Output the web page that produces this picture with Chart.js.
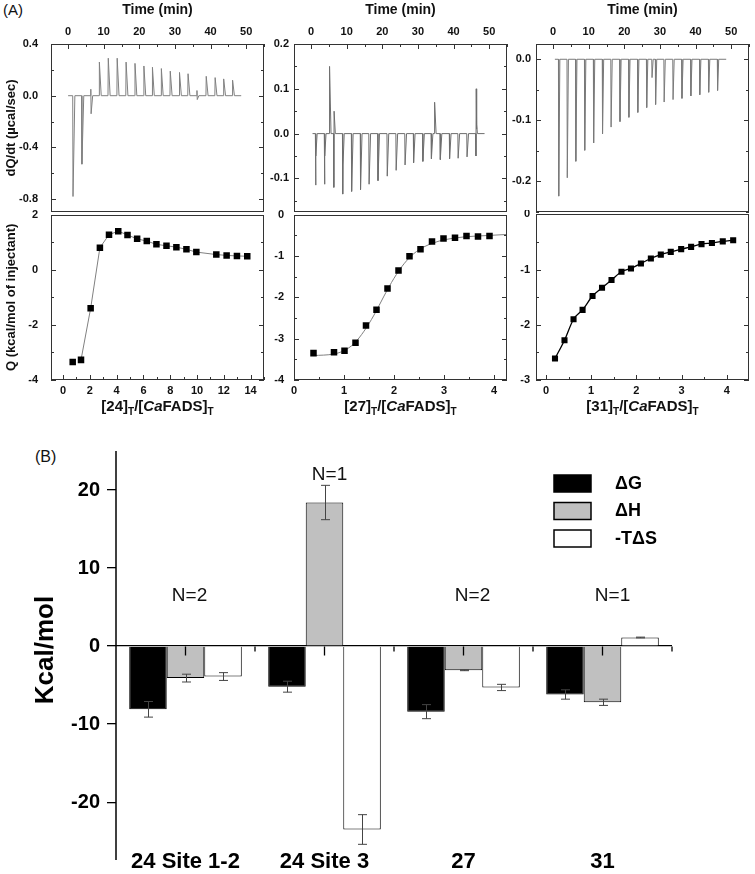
<!DOCTYPE html>
<html>
<head>
<meta charset="utf-8">
<script src="https://cdn.jsdelivr.net/npm/chart.js@4.4.0/dist/chart.umd.min.js"></script>
<style>
body { margin: 0; width: 755px; height: 874px; background: #fff; position: relative; overflow: hidden; font-family: "Liberation Sans", Arial, sans-serif; }
canvas { position: absolute; }
.lab { position: absolute; color: #111; }
.xt { position: absolute; text-align: center; font-weight: bold; font-size: 15px; top: 397px; color: #111; }
.xt sub { font-size: 10px; vertical-align: -4px; line-height: 0; }
</style>
</head>
<body>
<div class="lab" style="left:3px;top:1px;font-size:15px">(A)</div>
<div class="lab" style="left:35px;top:448px;font-size:16px">(B)</div>

<canvas id="t1" width="270" height="214" style="left:0;top:0"></canvas>
<canvas id="b1" width="270" height="192" style="left:0;top:210px"></canvas>
<canvas id="t2" width="259" height="214" style="left:254px;top:0"></canvas>
<canvas id="b2" width="259" height="192" style="left:254px;top:210px"></canvas>
<canvas id="t3" width="259" height="214" style="left:496px;top:0"></canvas>
<canvas id="b3" width="259" height="192" style="left:496px;top:210px"></canvas>

<div class="xt" style="left:51px;width:213px">[24]<sub>T</sub>/[<i>Ca</i>FADS]<sub>T</sub></div>
<div class="xt" style="left:294px;width:213px">[27]<sub>T</sub>/[<i>Ca</i>FADS]<sub>T</sub></div>
<div class="xt" style="left:536px;width:213px">[31]<sub>T</sub>/[<i>Ca</i>FADS]<sub>T</sub></div>

<canvas id="bars" width="755" height="444" style="left:0;top:430px"></canvas>

<script>
// raw ITC traces: injection times (min) and peak heights (µcal/sec)
const inj1Times = [1.3, 3.8, 6.3, 8.7, 11.2, 13.7, 16.2, 18.7, 21.2, 23.6, 26.1, 28.6, 31.2, 33.6, 36.1, 38.7, 41.2, 43.6, 46.1];
const inj1Peaks = [-0.78, -0.53, [0.05, -0.14], 0.26, 0.29, 0.29, 0.26, 0.25, 0.23, 0.22, 0.21, 0.19, 0.18, 0.17, [0.04, -0.03], 0.15, 0.14, 0.13, 0.12];

const inj2Times = [1.2, 3.7, 5.1, 6.3, 8.8, 11.3, 13.8, 16.2, 18.7, 21.3, 23.8, 26.3, 28.7, 31.3, 33.7, 34.6, 36.2, 38.8, 41.2, 43.7, 46.2];
const inj2Peaks = [[-0.115, -0.05], [-0.113, -0.05], 0.15, [-0.12, 0.05], [-0.135, -0.07], -0.129, -0.125, -0.113, -0.105, -0.095, -0.082,
  -0.07, -0.065, -0.062, -0.056, 0.07, -0.058, -0.056, -0.055, -0.052, [-0.05, 0.10, 0.01, 0.02]];

const inj3Times = [1.5, 3.9, 6.3, 8.8, 11.3, 13.8, 16.2, 18.7, 21.2, 23.7, 26.2, 27.7, 28.7, 31.1, 33.6, 36.1, 38.6, 41.1, 43.6, 46.1];
const inj3Peaks = [-0.224, -0.194, -0.167, -0.149, -0.137, -0.122, -0.111, -0.102, -0.095, -0.087, -0.079, -0.03, -0.074,
  -0.070, -0.066, -0.064, -0.060, -0.058, -0.054, -0.051];

// integrated heats: molar ratio and Q (kcal/mol of injectant)
const mr1 = [0.72, 1.34, 2.06, 2.75, 3.43, 4.12, 4.81, 5.53, 6.25, 6.97, 7.72, 8.46, 9.21, 9.95, 11.44, 12.21, 12.98, 13.75];
const q1 = [-3.35, -3.27, -1.40, 0.80, 1.27, 1.40, 1.26, 1.12, 1.04, 0.92, 0.87, 0.82, 0.74, 0.64, 0.55, 0.52, 0.50, 0.49];

const mr2 = [0.39, 0.80, 1.01, 1.23, 1.44, 1.65, 1.87, 2.09, 2.31, 2.53, 2.76, 2.99, 3.22, 3.45, 3.68, 3.91];
const q2 = [-3.35, -3.33, -3.29, -3.10, -2.68, -2.30, -1.79, -1.35, -1.01, -0.84, -0.65, -0.58, -0.56, -0.52, -0.53, -0.52];
const fit2X = [0.39, 0.8, 1.0, 1.2, 1.4, 1.6, 1.8, 2.0, 2.2, 2.4, 2.6, 2.8, 3.0, 3.4, 3.8, 4.26];
const fit2Y = [-3.41, -3.37, -3.29, -3.12, -2.82, -2.43, -1.97, -1.54, -1.19, -0.94, -0.78, -0.68, -0.61, -0.54, -0.51, -0.48];

const mr3 = [0.20, 0.41, 0.61, 0.81, 1.03, 1.24, 1.45, 1.67, 1.88, 2.10, 2.32, 2.54, 2.76, 2.99, 3.21, 3.44, 3.67, 3.91, 4.14];
const q3 = [-2.61, -2.28, -1.90, -1.73, -1.48, -1.33, -1.19, -1.04, -0.98, -0.89, -0.80, -0.73, -0.68, -0.63, -0.59, -0.54, -0.52, -0.49, -0.47];

// panel B: thermodynamic parameters (kcal/mol)
const groups = ['24 Site 1-2', '24 Site 3', '27', '31'];
const dG = [-8.1, -5.2, -8.4, -6.2];
const dGErr = [1.0, 0.7, 0.9, 0.6];
const dH = [-4.1, 18.4, -3.1, -7.2];
const dHErr = [0.5, 2.2, 0.05, 0.4];
const mTdS = [-3.9, -23.5, -5.3, 1.1];
const mTdSErr = [0.5, 1.9, 0.4, 0.05];
const nLabels = ['N=2', 'N=1', 'N=2', 'N=1'];

const FONT = '"Liberation Sans", Arial, sans-serif';
const bold = size => ({ family: FONT, size: size, weight: 'bold' });

// baseline -> peak(s) -> back to baseline for every injection
function trace(times, peaks, start, end, back) {
  const pts = [{ x: start, y: 0 }];
  times.forEach((t, i) => {
    pts.push({ x: t, y: 0 });
    [].concat(peaks[i]).forEach((v, j) => pts.push({ x: t + 0.08 * (j + 1), y: v }));
    pts.push({ x: t + back, y: 0 });
  });
  pts.push({ x: end, y: 0 });
  return pts;
}
const xy = (xs, ys) => xs.map((x, i) => ({ x: x, y: ys[i] }));

// fixed axis box size, no extra room for overhanging labels
const fixSize = (prop, size) => s => {
  s[prop] = size;
  s.paddingTop = 0; s.paddingBottom = 0; s.paddingLeft = 0; s.paddingRight = 0;
};

// box frame + inward ticks
const framePlugin = {
  id: 'frame',
  afterDatasetsDraw(chart, args, opts) {
    const ctx = chart.ctx, a = chart.chartArea;
    ctx.save();
    ctx.strokeStyle = '#333';
    ctx.lineWidth = 1;
    ['x', 'y'].forEach(id => {
      const s = chart.scales[id], step = opts[id];
      const first = Math.ceil(s.min / step - 1e-6), last = Math.floor(s.max / step + 1e-6);
      for (let k = first; k <= last; k++) {
        const v = k * step;
        const major = s.ticks.some(t => Math.abs(t.value - v) < step / 10);
        const len = major ? 5 : 3;
        const p = Math.round(s.getPixelForValue(v)) + 0.5;
        ctx.beginPath();
        if (id === 'x') {
          const y0 = s.position === 'top' ? a.top : a.bottom;
          ctx.moveTo(p, y0);
          ctx.lineTo(p, s.position === 'top' ? y0 + len : y0 - len);
        } else {
          ctx.moveTo(a.left, p); ctx.lineTo(a.left + len, p);
          ctx.moveTo(a.right, p); ctx.lineTo(a.right - len, p);
        }
        ctx.stroke();
      }
    });
    ctx.strokeRect(Math.round(a.left) + 0.5, Math.round(a.top) + 0.5, Math.round(a.right - a.left) - 1, Math.round(a.bottom - a.top) - 1);
    ctx.restore();
  }
};

function panel(id, o) {
  return new Chart(document.getElementById(id), {
    type: 'scatter',
    data: { datasets: o.datasets },
    options: {
      responsive: false,
      animation: false,
      layout: { padding: o.pad },
      plugins: { legend: { display: false }, tooltip: { enabled: false }, frame: { x: o.xMinor, y: o.yMinor } },
      scales: {
        x: {
          type: 'linear', position: o.xPos, min: o.xMin, max: o.xMax,
          afterFit: fixSize('height', o.xH),
          grid: { display: false, drawTicks: false }, border: { display: false },
          ticks: { stepSize: o.xStep, includeBounds: false, autoSkip: false, maxRotation: 0, padding: o.xPos === 'top' ? 5 : 4, color: '#111', font: bold(11) },
          title: { display: !!o.xTitle, text: o.xTitle, color: '#111', font: bold(14), padding: { top: 2, bottom: 0 } }
        },
        y: {
          type: 'linear', min: o.yMin, max: o.yMax,
          afterFit: fixSize('width', o.yW),
          grid: { display: false, drawTicks: false }, border: { display: false },
          ticks: { stepSize: o.yStep, includeBounds: false, autoSkip: false, padding: o.yPadT, color: '#111', font: bold(11),
            callback: o.yFmt || (v => v) },
          title: { display: !!o.yTitle, text: o.yTitle, color: '#111', font: bold(13), padding: { top: 4, bottom: 0 } }
        }
      }
    },
    plugins: [framePlugin]
  });
}

const oneDec = v => v.toFixed(1);
const topPad = { left: 0, right: 6, top: 0, bottom: 2 };
const botPad = { left: 0, right: 6, top: 2, bottom: 0 };
const lineDs = (data, color, width) => ({ data: data, showLine: true, pointRadius: 0, borderColor: color, borderWidth: width, tension: 0 });
const pointDs = (data, r) => ({ data: data, pointStyle: 'rect', pointRadius: r, backgroundColor: '#000', borderColor: '#000', borderWidth: 0 });

// column 1
panel('t1', {
  datasets: [lineDs(trace(inj1Times, inj1Peaks, 0, 48.6, 0.6), '#808080', 1)],
  pad: topPad, xPos: 'top', xMin: -4.8, xMax: 55, xStep: 10, xMinor: 5, xH: 44, xTitle: 'Time (min)',
  yMin: -0.9, yMax: 0.4, yStep: 0.4, yMinor: 0.2, yW: 51, yPadT: 13, yFmt: oneDec, yTitle: 'dQ/dt (µcal/sec)'
});
panel('b1', {
  datasets: [pointDs(xy(mr1, q1), 4.6), lineDs(xy(mr1.slice(1), q1.slice(1)), '#808080', 1)],
  pad: botPad, xPos: 'bottom', xMin: -0.9, xMax: 15, xStep: 2, xMinor: 1, xH: 22,
  yMin: -4, yMax: 2, yStep: 2, yMinor: 1, yW: 51, yPadT: 13, yTitle: 'Q (kcal/mol of injectant)'
});

// column 2
panel('t2', {
  datasets: [lineDs(trace(inj2Times, inj2Peaks, 0.4, 48.7, 0.5), '#6e6e6e', 1)],
  pad: topPad, xPos: 'top', xMin: -4.8, xMax: 55, xStep: 10, xMinor: 5, xH: 44, xTitle: 'Time (min)',
  yMin: -0.175, yMax: 0.2, yStep: 0.1, yMinor: 0.05, yW: 40, yPadT: 5, yFmt: oneDec
});
panel('b2', {
  datasets: [pointDs(xy(mr2, q2), 4.6), { ...lineDs(xy(fit2X, fit2Y), '#808080', 1), cubicInterpolationMode: 'monotone' }],
  pad: botPad, xPos: 'bottom', xMin: 0, xMax: 4.26, xStep: 1, xMinor: 0.5, xH: 22,
  yMin: -4, yMax: 0, yStep: 1, yMinor: 0.5, yW: 40, yPadT: 10
});

// column 3
panel('t3', {
  datasets: [lineDs(trace(inj3Times, inj3Peaks, 0.5, 48.6, 0.4), '#7a7a7a', 1)],
  pad: topPad, xPos: 'top', xMin: -4.8, xMax: 55, xStep: 10, xMinor: 5, xH: 44, xTitle: 'Time (min)',
  yMin: -0.25, yMax: 0.025, yStep: 0.1, yMinor: 0.05, yW: 40, yPadT: 5, yFmt: oneDec
});
panel('b3', {
  datasets: [pointDs(xy(mr3, q3), 4.3), { ...lineDs(xy(mr3, q3), '#000', 1.3), cubicInterpolationMode: 'monotone' }],
  pad: botPad, xPos: 'bottom', xMin: -0.22, xMax: 4.49, xStep: 1, xMinor: 0.5, xH: 22,
  yMin: -3, yMax: 0, yStep: 1, yMinor: 0.5, yW: 40, yPadT: 6
});

// panel B extras: axis line, zero-line ticks, error bars, N labels, legend
const barExtras = {
  id: 'barExtras',
  afterDatasetsDraw(chart, args, opts) {
    const ctx = chart.ctx, a = chart.chartArea, xs = chart.scales.x, ys = chart.scales.y;
    const y0 = Math.round(ys.getPixelForValue(0)) + 0.5;
    ctx.save();
    ctx.strokeStyle = '#000';
    ctx.lineWidth = 1.5;
    ctx.beginPath();
    ctx.moveTo(a.left, a.top); ctx.lineTo(a.left, a.bottom + 11);
    ctx.stroke();
    ctx.lineWidth = 1.3;
    groups.forEach((g, i) => {
      const c = xs.getPixelForValue(i);
      const edge = i < groups.length - 1 ? (c + xs.getPixelForValue(i + 1)) / 2 : a.right;
      ctx.beginPath();
      ctx.moveTo(c, y0); ctx.lineTo(c, y0 + 9);
      ctx.moveTo(edge, y0); ctx.lineTo(edge, y0 + 5);
      ctx.stroke();
    });
    // error bars
    ctx.strokeStyle = '#444';
    ctx.lineWidth = 1;
    chart.data.datasets.forEach((ds, d) => {
      chart.getDatasetMeta(d).data.forEach((bar, i) => {
        const v = ds.data[i], e = ds.errors[i];
        const x = Math.round(bar.x) + 0.5, yt = ys.getPixelForValue(v + e), yb = ys.getPixelForValue(v - e);
        ctx.beginPath();
        ctx.moveTo(x, yt); ctx.lineTo(x, yb);
        ctx.moveTo(x - 4.5, yt); ctx.lineTo(x + 4.5, yt);
        ctx.moveTo(x - 4.5, yb); ctx.lineTo(x + 4.5, yb);
        ctx.stroke();
      });
    });
    // N labels
    ctx.fillStyle = '#111';
    ctx.font = '19px ' + FONT;
    ctx.textAlign = 'center';
    ctx.textBaseline = 'middle';
    nLabels.forEach((t, i) => {
      ctx.fillText(t, xs.getPixelForValue(i) + opts.nDx[i], ys.getPixelForValue(opts.nY[i]));
    });
    // legend
    ctx.font = 'bold 18px ' + FONT;
    ctx.textAlign = 'left';
    chart.data.datasets.forEach((ds, d) => {
      const top = opts.legendTop + d * 27.5;
      ctx.fillStyle = ds.backgroundColor;
      ctx.fillRect(opts.legendLeft, top, 37, 17);
      ctx.strokeStyle = '#000';
      ctx.lineWidth = 1.5;
      ctx.strokeRect(opts.legendLeft, top, 37, 17);
      ctx.fillStyle = '#000';
      ctx.fillText(ds.label, opts.legendLeft + 61, top + 9);
    });
    ctx.restore();
  }
};

const barDs = (label, data, errors, fill) => ({
  label: label, data: data, errors: errors, backgroundColor: fill, borderColor: '#000', borderWidth: 1
});

new Chart(document.getElementById('bars'), {
  type: 'bar',
  data: {
    labels: groups,
    datasets: [
      barDs('ΔG', dG, dGErr, '#000'),
      barDs('ΔH', dH, dHErr, '#c0c0c0'),
      barDs('-TΔS', mTdS, mTdSErr, '#fff')
    ]
  },
  options: {
    responsive: false,
    animation: false,
    layout: { padding: { left: 0, right: 83, top: 21, bottom: 0 } },
    datasets: { bar: { categoryPercentage: 0.81, barPercentage: 1 } },
    plugins: {
      legend: { display: false },
      tooltip: { enabled: false },
      barExtras: { nY: [6.4, 21.9, 6.4, 6.4], nDx: [4, 5, 9, 10], legendLeft: 554, legendTop: 45 }
    },
    scales: {
      x: {
        afterFit: s => { s.height = 25; },
        grid: { display: false, drawTicks: false }, border: { display: false },
        ticks: { padding: 0, color: '#000', font: bold(22), maxRotation: 0, autoSkip: false }
      },
      y: {
        min: -26, max: 25,
        afterFit: s => { s.width = 116; },
        border: { display: false },
        grid: {
          color: c => (c.tick && c.tick.value === 0 ? '#000' : 'rgba(0,0,0,0)'),
          lineWidth: 1.3, tickColor: '#000', tickLength: 9, drawTicks: true
        },
        ticks: { stepSize: 10, includeBounds: false, padding: 7, color: '#000', font: bold(20) },
        title: { display: true, text: 'Kcal/mol', color: '#000', font: bold(26), padding: { top: 30, bottom: 0 } }
      }
    }
  },
  plugins: [barExtras]
});
</script>
</body>
</html>
